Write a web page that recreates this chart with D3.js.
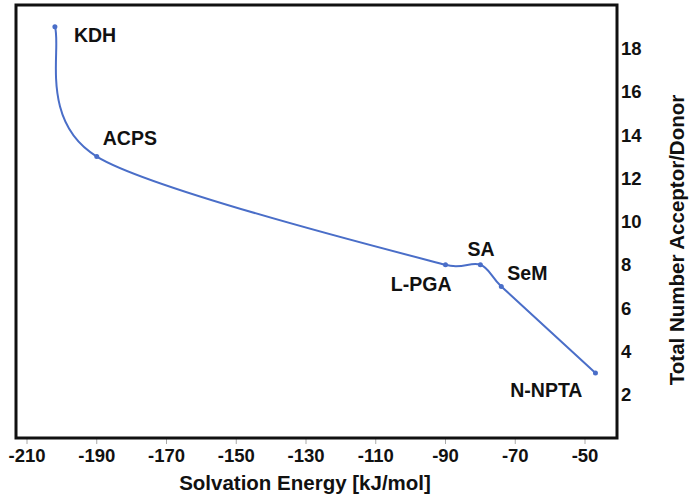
<!DOCTYPE html>
<html>
<head>
<meta charset="utf-8">
<script src="https://cdn.jsdelivr.net/npm/d3@7"></script>
<style>
  body { margin: 0; background: #fff; }
  svg { display: block; font-family: "Liberation Sans", Arial, sans-serif; font-weight: bold; }
  .tick-label { font-size: 18.5px; fill: #111; }
  .axis-title { font-size: 20.5px; fill: #111; }
  .point-label { font-size: 19.5px; fill: #111; }
</style>
</head>
<body>
<svg id="chart" width="689" height="498"></svg>
<script>
// compounds, solvation energy (kJ/mol) and total acceptor/donor count
var compounds = ["KDH", "ACPS", "L-PGA", "SA", "SeM", "N-NPTA"];
var solvationEnergy = [-202, -190, -90, -80, -74, -47];
var acceptorDonor = [19, 13, 8, 8, 7, 3];

var xTicks = [-210, -190, -170, -150, -130, -110, -90, -70, -50];
var yTicks = [2, 4, 6, 8, 10, 12, 14, 16, 18];

// where each label sits relative to its point
var labelOffset = {
  "KDH": [19, 15, "start"],
  "ACPS": [6, -12, "start"],
  "L-PGA": [6, 26, "end"],
  "SA": [-13, -9, "start"],
  "SeM": [6, -6, "start"],
  "N-NPTA": [-13, 24, "end"]
};

var svg = d3.select("#chart");
var frame = { left: 16, right: 617, top: 5, bottom: 438 };

var x = d3.scaleLinear().domain([-210, -50]).range([27, 585]);
var y = d3.scaleLinear().domain([0, 20]).range([frame.bottom, frame.top]);

var points = compounds.map(function(name, i) {
  return { name: name, x: solvationEnergy[i], y: acceptorDonor[i] };
});

// spreadsheet-style smoothed line: bezier with 1/6 tangents,
// clamped to half of the neighbouring segment lengths
function smoothPath(data) {
  var p = data.map(function(d) { return [x(d.x), y(d.y)]; });
  var n = p.length;
  var tangents = p.map(function(pt, i) {
    var a = p[Math.max(i - 1, 0)];
    var b = p[Math.min(i + 1, n - 1)];
    var tx = b[0] - a[0], ty = b[1] - a[1];
    var len = Math.hypot(tx, ty);
    if (!len) return [0, 0];
    var want = len / 6;
    if (i > 0) want = Math.min(want, Math.hypot(pt[0] - a[0], pt[1] - a[1]) / 2);
    if (i < n - 1) want = Math.min(want, Math.hypot(b[0] - pt[0], b[1] - pt[1]) / 2);
    return [tx / len * want, ty / len * want];
  });
  var path = d3.path();
  path.moveTo(p[0][0], p[0][1]);
  for (var i = 1; i < n; i++) {
    path.bezierCurveTo(
      p[i - 1][0] + tangents[i - 1][0], p[i - 1][1] + tangents[i - 1][1],
      p[i][0] - tangents[i][0], p[i][1] - tangents[i][1],
      p[i][0], p[i][1]
    );
  }
  return path.toString();
}

// little grey ticks under the frame
svg.selectAll("line.xtick")
  .data(xTicks)
  .enter()
  .append("line")
  .attr("x1", function(d) { return x(d); })
  .attr("x2", function(d) { return x(d); })
  .attr("y1", frame.bottom)
  .attr("y2", frame.bottom + 6)
  .attr("stroke", "#aaa")
  .attr("stroke-width", 1);

svg.selectAll("text.xlabel")
  .data(xTicks)
  .enter()
  .append("text")
  .attr("class", "tick-label")
  .attr("x", function(d) { return x(d); })
  .attr("y", 462)
  .attr("text-anchor", "middle")
  .text(function(d) { return d; });

svg.selectAll("text.ylabel")
  .data(yTicks)
  .enter()
  .append("text")
  .attr("class", "tick-label")
  .attr("x", frame.right + 4)
  .attr("y", function(d) { return y(d); })
  .attr("dy", "0.36em")
  .text(function(d) { return d; });

svg.append("rect")
  .attr("x", frame.left)
  .attr("y", frame.top)
  .attr("width", frame.right - frame.left)
  .attr("height", frame.bottom - frame.top)
  .attr("fill", "none")
  .attr("stroke", "#111")
  .attr("stroke-width", 3);

svg.append("path")
  .datum(points)
  .attr("d", smoothPath)
  .attr("fill", "none")
  .attr("stroke", "#4a6ec8")
  .attr("stroke-width", 2);

svg.selectAll("circle.pt")
  .data(points)
  .enter()
  .append("circle")
  .attr("cx", function(d) { return x(d.x); })
  .attr("cy", function(d) { return y(d.y); })
  .attr("r", 2.5)
  .attr("fill", "#4a6ec8");

svg.selectAll("text.point-label")
  .data(points)
  .enter()
  .append("text")
  .attr("class", "point-label")
  .attr("x", function(d) { return x(d.x) + labelOffset[d.name][0]; })
  .attr("y", function(d) { return y(d.y) + labelOffset[d.name][1]; })
  .attr("text-anchor", function(d) { return labelOffset[d.name][2]; })
  .text(function(d) { return d.name; });

svg.append("text")
  .attr("class", "axis-title")
  .attr("x", 305)
  .attr("y", 490)
  .attr("text-anchor", "middle")
  .text("Solvation Energy [kJ/mol]");

svg.append("text")
  .attr("class", "axis-title")
  .attr("transform", "translate(684,240) rotate(-90)")
  .attr("text-anchor", "middle")
  .text("Total Number Acceptor/Donor");
</script>
</body>
</html>
